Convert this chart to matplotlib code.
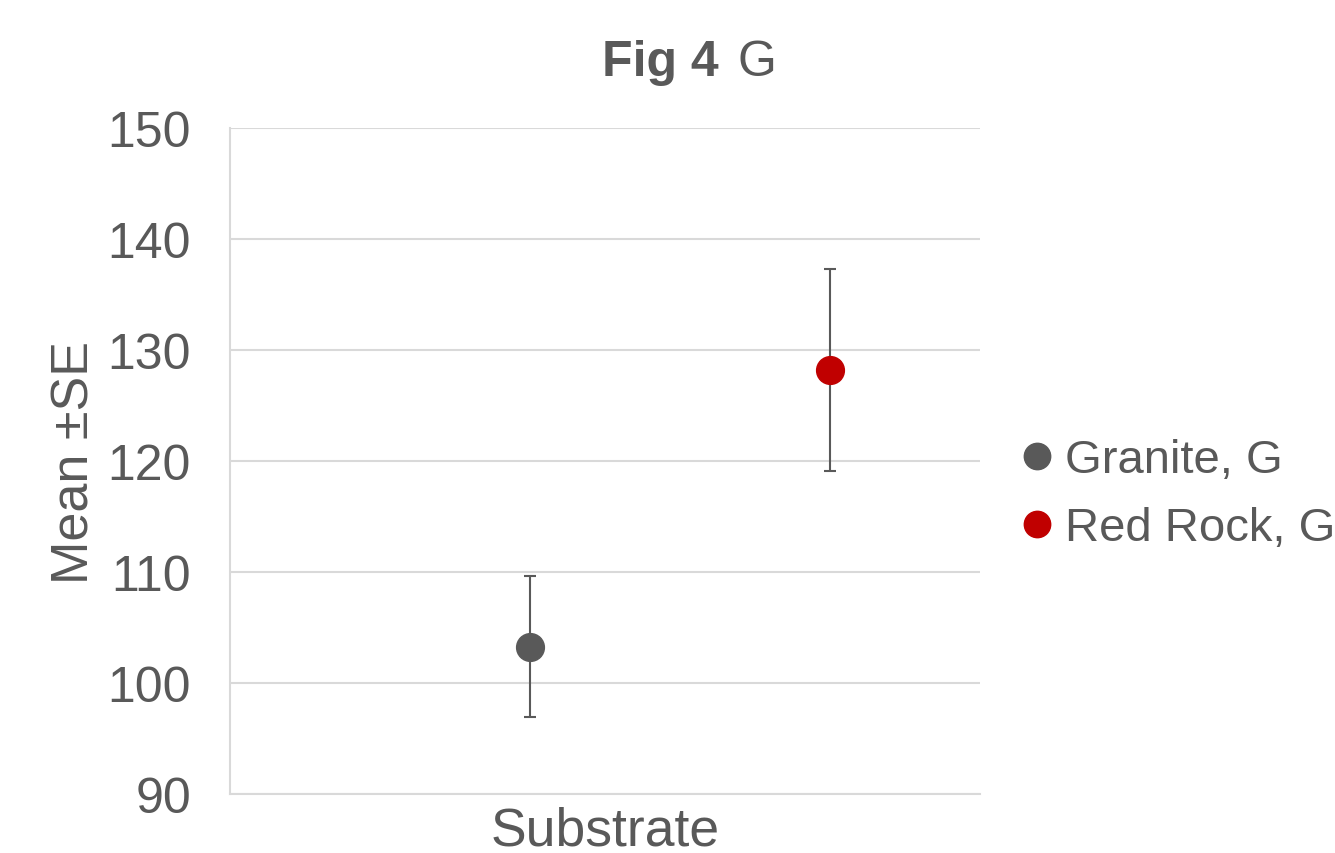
import matplotlib
matplotlib.use('Agg')
import matplotlib.pyplot as plt

plt.rcParams['font.family'] = ['Liberation Sans', 'DejaVu Sans']

series = ['Granite, G', 'Red Rock, G']
xpos = [1, 2]
means = [103.2, 128.2]
se_low = [6.3, 9.1]
se_high = [6.4, 9.1]
colors = ['#595959', '#C00000']

text_col = '#595959'
grid_col = '#d9d9d9'

fig = plt.figure(figsize=(13.35, 8.54), dpi=100)
ax = fig.add_axes([230/1335, 1 - 795/854, 750/1335, 666/854])

for x, m, lo, hi, c, name in zip(xpos, means, se_low, se_high, colors, series):
    ax.errorbar([x], [m], yerr=[[lo], [hi]], fmt='none', ecolor='#595959',
                elinewidth=1.5, capsize=4.5, capthick=1.5, zorder=3)
    ax.plot([x], [m], 'o', color=c, markersize=20, label=name, zorder=4)

ax.set_xlim(0, 2.5)
ax.set_ylim(90, 150)
ax.set_yticks(range(90, 151, 10))
ax.set_xticks([])
ax.yaxis.grid(True, color=grid_col, linewidth=1.5)
ax.set_axisbelow(True)
for s in ['top', 'right']:
    ax.spines[s].set_visible(False)
for s in ['left', 'bottom']:
    ax.spines[s].set_color(grid_col)
    ax.spines[s].set_linewidth(1.5)
ax.tick_params(axis='y', length=0, labelsize=36, labelcolor=text_col, pad=28)

ax.set_xlabel('Substrate', fontsize=38.5, color=text_col, labelpad=8)
ax.set_ylabel('Mean ±SE', fontsize=37.5, color=text_col, labelpad=6)

fig.text(719/1335, 1 - 76/854, 'Fig 4', fontsize=36, fontweight='bold',
         color=text_col, ha='right', va='baseline')
fig.text(737/1335, 1 - 76/854, 'G', fontsize=36, color=text_col,
         ha='left', va='baseline')

leg = ax.legend(loc='center left', bbox_to_anchor=(1.0, 0.45), frameon=False,
                fontsize=34, handletextpad=0.0, handlelength=1.2,
                labelspacing=0.5, borderaxespad=0.2)
for t in leg.get_texts():
    t.set_color(text_col)
for h in leg.legend_handles:
    h.set_markersize(19)

fig.savefig('out.png', dpi=100)
